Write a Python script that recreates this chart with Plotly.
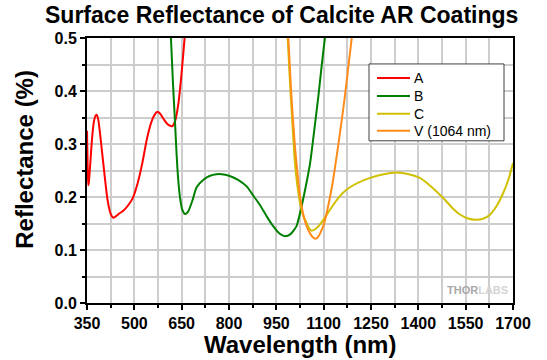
import plotly.graph_objects as go

# ---- data ----
a_nm = [350, 352, 354, 356, 360, 366, 372, 378, 381, 386, 395, 405, 415, 425, 433, 440,
        450, 465, 480, 495, 510, 525, 540, 555, 565, 573, 582, 595, 608, 621, 630, 640,
        650, 660, 668]
a_r = [0.325, 0.26, 0.222, 0.228, 0.26, 0.31, 0.343, 0.354, 0.355, 0.345, 0.30, 0.245,
       0.195, 0.168, 0.161, 0.163, 0.168, 0.174, 0.184, 0.198, 0.225, 0.263, 0.31, 0.343,
       0.356, 0.361, 0.357, 0.345, 0.336, 0.334, 0.345, 0.378, 0.435, 0.505, 0.56]

b_nm = [610, 616, 622, 629, 634, 639, 645, 652, 660, 670, 685, 697, 720, 740, 760, 777,
        800, 830, 856, 880, 898, 920, 940, 960, 977, 995, 1014, 1022, 1030, 1045, 1057,
        1070, 1083, 1095, 1104, 1110]
b_r = [0.56, 0.5, 0.42, 0.34, 0.28, 0.233, 0.198, 0.176, 0.168, 0.172, 0.195, 0.218,
       0.233, 0.24, 0.243, 0.243, 0.24, 0.232, 0.22, 0.2, 0.185, 0.163, 0.145, 0.131,
       0.126, 0.13, 0.145, 0.162, 0.182, 0.225, 0.264, 0.325, 0.389, 0.455, 0.5, 0.535]

c_nm = [975, 986, 992, 999, 1009, 1017, 1025, 1035, 1046, 1055, 1062, 1075, 1088, 1105,
        1120, 1145, 1173, 1210, 1247, 1290, 1331, 1370, 1405, 1440, 1479, 1510, 1532,
        1555, 1582, 1605, 1627, 1650, 1669, 1685, 1700]
c_r = [0.6, 0.5, 0.43, 0.358, 0.264, 0.22, 0.189, 0.165, 0.151, 0.14, 0.1365, 0.14,
       0.148, 0.162, 0.176, 0.197, 0.214, 0.227, 0.236, 0.243, 0.246, 0.243, 0.236, 0.22,
       0.198, 0.178, 0.167, 0.16, 0.157, 0.159, 0.1667, 0.185, 0.2075, 0.232, 0.264]

v_nm = [978, 988, 998, 1009, 1017, 1025, 1035, 1046, 1058, 1068, 1076, 1085, 1093, 1099,
        1107, 1114, 1128, 1141, 1155, 1167, 1180, 1189, 1198]
v_r = [0.6, 0.5, 0.389, 0.295, 0.245, 0.201, 0.168, 0.145, 0.13, 0.123, 0.1215, 0.127,
       0.137, 0.145, 0.163, 0.182, 0.225, 0.276, 0.335, 0.389, 0.455, 0.5, 0.55]

series_names = ["A", "B", "C", "V (1064 nm)"]
series_x = [a_nm, b_nm, c_nm, v_nm]
series_y = [a_r, b_r, c_r, v_r]
series_colors = ["#ff0000", "#008000", "#d0c000", "#ff8c1a"]

FONT = "Arial, Liberation Sans, sans-serif"
GRID = "#cdcdcd"

fig = go.Figure()
for name, xs, ys, col in zip(series_names, series_x, series_y, series_colors):
    fig.add_trace(go.Scatter(x=xs, y=ys, mode="lines", name=name, showlegend=False,
                             line=dict(color=col, width=2, shape="spline", smoothing=0.6)))

W, H = 547, 360
L, R, T, B = 87, 34, 38, 56.5

axis_common = dict(
    showline=True, linecolor="black", linewidth=2, mirror=True,
    ticks="outside", ticklen=5, tickwidth=2, tickcolor="black",
    showgrid=True, gridcolor=GRID, gridwidth=2,
    zeroline=False,
    tickfont=dict(family=FONT, size=16, color="black", weight="bold"),
)

fig.update_xaxes(range=[350, 1700], tick0=350, dtick=150,
                 minor=dict(dtick=75, tick0=350, ticks="outside", ticklen=3, tickwidth=2,
                            tickcolor="black", showgrid=True, gridcolor=GRID, gridwidth=2),
                 **axis_common)
fig.update_yaxes(range=[0, 0.5], tick0=0, dtick=0.1, tickformat=".1f",
                 minor=dict(dtick=0.05, tick0=0, ticks="outside", ticklen=3, tickwidth=2,
                            tickcolor="black", showgrid=True, gridcolor=GRID, gridwidth=2),
                 **axis_common)

pw = W - L - R
ph = H - T - B

def px_x(x):
    return (x - L) / pw

def px_y(y):
    return (H - B - y) / ph

# manual legend (box, line samples, labels)
shapes = [dict(type="rect", xref="paper", yref="paper",
               x0=px_x(369), x1=px_x(504), y0=px_y(141), y1=px_y(64),
               line=dict(color="#404040", width=1), fillcolor="white", layer="above")]
annotations = []
leg_rows = [78, 96, 114, 131]
for name, col, yy in zip(series_names, series_colors, leg_rows):
    shapes.append(dict(type="line", xref="paper", yref="paper",
                       x0=px_x(377), x1=px_x(410), y0=px_y(yy), y1=px_y(yy),
                       line=dict(color=col, width=2), layer="above"))
    annotations.append(dict(text=name, showarrow=False, xref="paper", yref="paper",
                            x=px_x(412), y=px_y(yy), xanchor="left", yanchor="middle",
                            font=dict(family=FONT, size=14, color="black")))

annotations += [
    dict(text="<b>Surface Reflectance of Calcite AR Coatings</b>", showarrow=False,
         xref="paper", yref="paper", x=px_x(281.5), y=px_y(15),
         xanchor="center", yanchor="middle",
         font=dict(family=FONT, size=23, color="black")),
    dict(text="<b>Reflectance (%)</b>", textangle=-90, showarrow=False,
         xref="paper", yref="paper", x=px_x(25), y=px_y(160),
         xanchor="center", yanchor="middle",
         font=dict(family=FONT, size=24, color="black")),
    dict(text="<b>Wavelength (nm)</b>", showarrow=False,
         xref="paper", yref="paper", x=px_x(300), y=px_y(345),
         xanchor="center", yanchor="middle",
         font=dict(family=FONT, size=24, color="black")),
    dict(text="<b><span style='color:#a8a8a8'>THOR</span><span style='color:#d4d4d4'>LABS</span></b>",
         showarrow=False, xref="paper", yref="paper", x=px_x(477), y=px_y(290),
         xanchor="center", yanchor="middle",
         font=dict(family=FONT, size=11, color="#a8a8a8")),
]

fig.update_layout(
    width=W, height=H,
    margin=dict(l=L, r=R, t=T, b=B, pad=0),
    plot_bgcolor="white", paper_bgcolor="white",
    showlegend=False,
    shapes=shapes,
    annotations=annotations,
)

fig.write_html("out.html", config={"displayModeBar": False},
               post_script="document.body.style.margin='0';document.body.style.overflow='hidden';")
